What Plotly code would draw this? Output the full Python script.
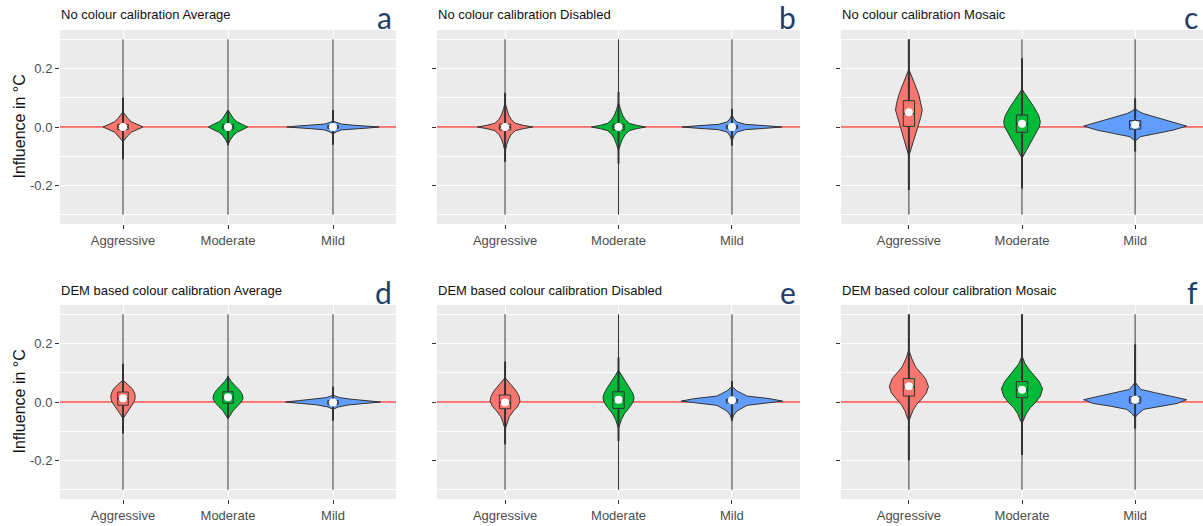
import plotly.graph_objects as go

W, H = 1203, 526

categories = ["Aggressive", "Moderate", "Mild"]
positions = [1, 2, 3]
fill_colours = ["#F8766D", "#00BA38", "#619CFF"]

panel_titles = [
    "No colour calibration Average",
    "No colour calibration Disabled",
    "No colour calibration Mosaic",
    "DEM based colour calibration Average",
    "DEM based colour calibration Disabled",
    "DEM based colour calibration Mosaic",
]
panel_letters = ["a", "b", "c", "d", "e", "f"]

y_tick_values = [-0.2, 0.0, 0.2]
y_tick_labels = ["-0.2", "0.0", "0.2"]
y_title = "Influence in °C"
reference_level = 0.0

# Box statistics per panel, ordered Aggressive, Moderate, Mild
box_q1 = [
    [-0.009, -0.009, -0.005],
    [-0.010, -0.010, -0.006],
    [0.002, -0.018, -0.007],
    [-0.011, -0.004, -0.008],
    [-0.023, -0.022, -0.003],
    [0.0205, 0.015, -0.004],
]
box_median = [
    [0.0, 0.0, 0.0],
    [0.0, 0.0, 0.0],
    [0.046, 0.010, 0.007],
    [0.012, 0.015, -0.002],
    [-0.002, 0.007, 0.005],
    [0.052, 0.041, 0.007],
]
box_q3 = [
    [0.009, 0.009, 0.005],
    [0.010, 0.010, 0.006],
    [0.090, 0.041, 0.022],
    [0.034, 0.035, 0.005],
    [0.024, 0.035, 0.010],
    [0.080, 0.070, 0.018],
]
mean_values = [
    [0.0, 0.0, 0.0],
    [0.0, 0.0, 0.0],
    [0.050, 0.011, 0.008],
    [0.0127, 0.016, -0.002],
    [-0.002, 0.008, 0.006],
    [0.054, 0.042, 0.008],
]
whisker_low = [
    [-0.110, -0.062, -0.061],
    [-0.119, -0.125, -0.064],
    [-0.215, -0.210, -0.084],
    [-0.108, -0.057, -0.064],
    [-0.145, -0.133, -0.065],
    [-0.200, -0.181, -0.091],
]
whisker_high = [
    [0.101, 0.058, 0.058],
    [0.117, 0.120, 0.062],
    [0.300, 0.235, 0.098],
    [0.131, 0.089, 0.052],
    [0.138, 0.152, 0.072],
    [0.300, 0.300, 0.197],
]
data_min = [-0.3, -0.3, -0.3]
data_max = [0.3, 0.3, 0.3]

# Violin outlines: y levels (top to bottom) and half-widths in x units
violin_y_a = [
    [0.052, 0.041, 0.03, 0.018, 0.009, 0.0, -0.009, -0.018, -0.03, -0.041, -0.05],
    [0.058, 0.045, 0.03, 0.018, 0.009, 0.0, -0.009, -0.018, -0.03, -0.045, -0.061],
    [0.02, 0.015, 0.01, 0.006, 0.003, 0.0, -0.003, -0.006, -0.01, -0.016, -0.024],
]
violin_w_a = [
    [0, 0.022, 0.045, 0.079, 0.133, 0.19, 0.133, 0.079, 0.045, 0.022, 0],
    [0, 0.02, 0.05, 0.085, 0.14, 0.187, 0.14, 0.085, 0.05, 0.02, 0],
    [0, 0.035, 0.08, 0.2, 0.35, 0.44, 0.35, 0.2, 0.08, 0.035, 0],
]
violin_y_b = [
    [0.083, 0.06, 0.041, 0.025, 0.0125, 0.0057, 0.0, -0.0057, -0.0125, -0.025, -0.041, -0.06, -0.084],
    [0.083, 0.06, 0.041, 0.025, 0.0125, 0.0057, 0.0, -0.0057, -0.0125, -0.025, -0.041, -0.06, -0.08],
    [0.041, 0.028, 0.017, 0.009, 0.0046, 0.0, -0.0046, -0.009, -0.017, -0.03, -0.047],
]
violin_w_b = [
    [0, 0.015, 0.032, 0.055, 0.091, 0.16, 0.244, 0.16, 0.091, 0.055, 0.032, 0.015, 0],
    [0, 0.017, 0.035, 0.06, 0.095, 0.16, 0.238, 0.16, 0.095, 0.06, 0.035, 0.017, 0],
    [0, 0.018, 0.044, 0.12, 0.29, 0.44, 0.29, 0.12, 0.044, 0.018, 0],
]
violin_y_c = [
    [0.197, 0.17, 0.14, 0.11, 0.08, 0.058, 0.03, 0.0, -0.03, -0.06, -0.08, -0.099],
    [0.129, 0.10, 0.07, 0.04, 0.018, 0.0, -0.03, -0.06, -0.085, -0.107],
    [0.063, 0.055, 0.046, 0.034, 0.023, 0.003, -0.0103, -0.0217, -0.033, -0.048],
]
violin_w_c = [
    [0, 0.03, 0.059, 0.088, 0.109, 0.118, 0.103, 0.08, 0.053, 0.03, 0.015, 0],
    [0, 0.053, 0.103, 0.147, 0.162, 0.153, 0.112, 0.065, 0.03, 0],
    [0, 0.025, 0.07, 0.176, 0.27, 0.455, 0.34, 0.194, 0.047, 0],
]
violin_y_d = [
    [0.075, 0.06, 0.045, 0.03, 0.015, 0.0, -0.015, -0.03, -0.045, -0.057],
    [0.087, 0.07, 0.055, 0.04, 0.025, 0.012, 0.0, -0.015, -0.03, -0.045, -0.057],
    [0.023, 0.015, 0.01, 0.005, 0.0, -0.005, -0.01, -0.017, -0.025],
]
violin_w_d = [
    [0, 0.048, 0.089, 0.111, 0.117, 0.105, 0.076, 0.044, 0.019, 0],
    [0, 0.032, 0.07, 0.111, 0.137, 0.143, 0.127, 0.089, 0.048, 0.022, 0],
    [0, 0.063, 0.16, 0.317, 0.452, 0.3, 0.15, 0.05, 0],
]
violin_y_e = [
    [0.083, 0.07, 0.055, 0.04, 0.02, 0.003, -0.015, -0.03, -0.05, -0.07, -0.093],
    [0.109, 0.09, 0.07, 0.05, 0.03, 0.015, 0.0, -0.02, -0.04, -0.06, -0.091],
    [0.053, 0.038, 0.0205, 0.011, 0.003, -0.002, -0.0114, -0.031, -0.045, -0.063],
]
violin_w_e = [
    [0, 0.029, 0.059, 0.094, 0.123, 0.132, 0.112, 0.076, 0.038, 0.018, 0],
    [0, 0.029, 0.059, 0.097, 0.126, 0.137, 0.129, 0.094, 0.053, 0.026, 0],
    [0, 0.044, 0.132, 0.338, 0.447, 0.338, 0.132, 0.044, 0.015, 0],
]
violin_y_f = [
    [0.178, 0.15, 0.12, 0.10, 0.08, 0.053, 0.03, 0.01, -0.01, -0.03, -0.05, -0.065],
    [0.157, 0.13, 0.11, 0.09, 0.07, 0.045, 0.02, 0.0, -0.02, -0.04, -0.06, -0.073],
    [0.068, 0.057, 0.043, 0.032, 0.02, 0.008, -0.005, -0.014, -0.025, -0.039, -0.053],
]
violin_w_f = [
    [0, 0.024, 0.059, 0.103, 0.147, 0.173, 0.153, 0.112, 0.065, 0.035, 0.018, 0],
    [0, 0.029, 0.065, 0.112, 0.153, 0.182, 0.162, 0.123, 0.073, 0.038, 0.018, 0],
    [0, 0.02, 0.05, 0.173, 0.305, 0.455, 0.37, 0.22, 0.076, 0.03, 0],
]

violin_y = [violin_y_a, violin_y_b, violin_y_c, violin_y_d, violin_y_e, violin_y_f]
violin_w = [violin_w_a, violin_w_b, violin_w_c, violin_w_d, violin_w_e, violin_w_f]

# Panel placement in pixels
col_px = [(60, 396), (437, 800), (841, 1203)]
row_px = [(30, 224), (305, 499)]
y_lim = 0.3316
x_lim = (0.4, 3.6)
box_half = 0.05

INK = "#333333"
TICK_GREY = "#4D4D4D"
FONT = "Liberation Sans, Arial, sans-serif"


def fx(px):
    return px / W


def fy(px):
    return 1 - px / H


fig = go.Figure()
layout_axes = {}
annotations = []

for p in range(6):
    r, c = divmod(p, 3)
    n = p + 1
    xa = "x" if n == 1 else f"x{n}"
    ya = "y" if n == 1 else f"y{n}"
    x0, x1 = col_px[c]
    y0, y1 = row_px[r]

    layout_axes["xaxis" if n == 1 else f"xaxis{n}"] = dict(
        domain=[fx(x0), fx(x1)],
        anchor=ya,
        range=list(x_lim),
        tickvals=positions,
        ticktext=categories,
        ticks="outside",
        ticklen=4,
        tickwidth=1,
        tickcolor=INK,
        tickfont=dict(family=FONT, size=13, color=TICK_GREY),
        showgrid=True,
        gridcolor="white",
        gridwidth=1.2,
        zeroline=False,
        showline=False,
        fixedrange=True,
    )
    layout_axes["yaxis" if n == 1 else f"yaxis{n}"] = dict(
        domain=[fy(y1), fy(y0)],
        anchor=xa,
        range=[-y_lim, y_lim],
        tickvals=y_tick_values,
        ticktext=y_tick_labels,
        showticklabels=(c == 0),
        ticks="outside",
        ticklen=4,
        tickwidth=1,
        tickcolor=INK,
        tickfont=dict(family=FONT, size=13, color=TICK_GREY),
        showgrid=True,
        gridcolor="white",
        gridwidth=1.2,
        minor=dict(dtick=0.1, tick0=0, showgrid=True, gridcolor="white", gridwidth=0.7),
        zeroline=False,
        showline=False,
        fixedrange=True,
    )

    # red reference line at zero, under the violins
    fig.add_trace(go.Scatter(
        x=list(x_lim), y=[reference_level, reference_level], xaxis=xa, yaxis=ya,
        mode="lines", line=dict(color="#FF0000", width=1.2),
        hoverinfo="skip", showlegend=False,
    ))

    for k in range(3):
        pos = positions[k]
        col = fill_colours[k]
        ys = violin_y[p][k]
        ws = violin_w[p][k]
        vx = [pos + w for w in ws] + [pos - w for w in reversed(ws)]
        vy = list(ys) + list(reversed(ys))
        fig.add_trace(go.Scatter(
            x=vx, y=vy, xaxis=xa, yaxis=ya, mode="lines", fill="toself",
            fillcolor=col, line=dict(color=INK, width=1),
            hoverinfo="skip", showlegend=False,
        ))
        # full data range
        fig.add_trace(go.Scatter(
            x=[pos, pos], y=[data_min[k], data_max[k]], xaxis=xa, yaxis=ya,
            mode="lines", line=dict(color=INK, width=1),
            hoverinfo="skip", showlegend=False,
        ))
        # whiskers
        fig.add_trace(go.Scatter(
            x=[pos, pos], y=[whisker_low[p][k], whisker_high[p][k]], xaxis=xa, yaxis=ya,
            mode="lines", line=dict(color=INK, width=2),
            hoverinfo="skip", showlegend=False,
        ))
        # interquartile box with median line
        q1, q3, med = box_q1[p][k], box_q3[p][k], box_median[p][k]
        fig.add_trace(go.Scatter(
            x=[pos - box_half, pos + box_half, pos + box_half, pos - box_half, pos - box_half],
            y=[q1, q1, q3, q3, q1], xaxis=xa, yaxis=ya,
            mode="lines", fill="toself", fillcolor=col,
            line=dict(color=INK, width=1),
            hoverinfo="skip", showlegend=False,
        ))
        fig.add_trace(go.Scatter(
            x=[pos - box_half, pos + box_half], y=[med, med], xaxis=xa, yaxis=ya,
            mode="lines", line=dict(color=INK, width=1.4),
            hoverinfo="skip", showlegend=False,
        ))
        fig.add_trace(go.Scatter(
            x=[pos], y=[mean_values[p][k]], xaxis=xa, yaxis=ya, mode="markers",
            marker=dict(color="white", size=8, line=dict(width=0)),
            hoverinfo="skip", showlegend=False,
        ))

    # panel title
    annotations.append(dict(
        text=panel_titles[p], xref="paper", yref="paper",
        x=fx(x0 - 1), y=fy(y0 - 15), xanchor="left", yanchor="middle",
        showarrow=False, font=dict(family=FONT, size=13, color="#111111"),
    ))
    # panel letter
    annotations.append(dict(
        text=panel_letters[p], xref="paper", yref="paper",
        x=fx(x1 - 2 if c < 2 else x1 - 3), y=fy(y0 - 13), xanchor="right", yanchor="middle",
        showarrow=False, font=dict(family="Lato, Open Sans, sans-serif", size=30, color="#213E6B"),
    ))

# y-axis titles for the left column
for r in range(2):
    y0, y1 = row_px[r]
    annotations.append(dict(
        text=y_title, xref="paper", yref="paper",
        x=fx(18.5), y=fy((y0 + y1) / 2), xanchor="center", yanchor="middle",
        textangle=-90, showarrow=False,
        font=dict(family=FONT, size=16, color="#111111"),
    ))

fig.update_layout(
    width=W, height=H,
    margin=dict(l=0, r=0, t=0, b=0),
    paper_bgcolor="white",
    plot_bgcolor="#EBEBEB",
    annotations=annotations,
    showlegend=False,
    **layout_axes,
)

fig.write_html("out.html", config={"displayModeBar": False})
